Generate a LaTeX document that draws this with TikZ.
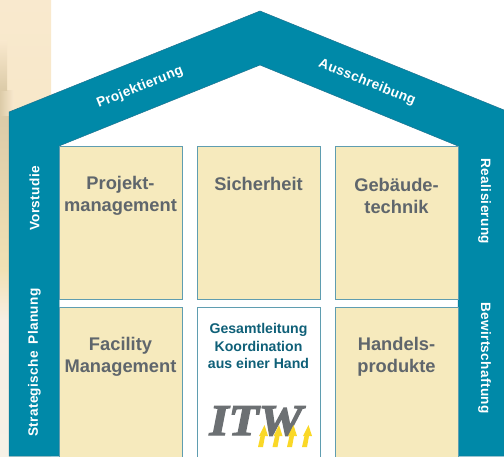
\documentclass[tikz,border=0pt]{standalone}
\usepackage{fontspec}
\setmainfont{Liberation Sans}
\newfontfamily\spacedbold[LetterSpace=2.5]{Liberation Sans Bold}
\newfontfamily\logofont[FakeBold=3,FakeStretch=1.12]{Liberation Serif Bold Italic}
\definecolor{teal}{HTML}{0089A8}
\definecolor{tealedge}{HTML}{1C7390}
\definecolor{cream}{HTML}{F6EABD}
\definecolor{boxedge}{HTML}{5F9DB0}
\definecolor{labelgrey}{HTML}{5F666C}
\definecolor{coordteal}{HTML}{0F6078}
\definecolor{logogrey}{HTML}{6C7073}
\definecolor{logoyellow}{HTML}{FAD827}
\definecolor{bgA}{HTML}{F9E9CE}
\definecolor{bgB}{HTML}{F5E6C2}
\definecolor{bgC}{HTML}{F8EEE4}
\definecolor{bgD}{HTML}{F6F1E6}
\definecolor{bgE}{HTML}{F1E1B4}
\definecolor{bgF}{HTML}{DCCBA8}
\tikzset{
  x=1pt,y=-1pt,
  pillar/.style={draw=boxedge,line width=1pt,fill=cream,minimum width=123pt,anchor=north west,inner sep=0pt,outer sep=0pt},
  whitepillar/.style={pillar,fill=white},
  head/.style={font=\fontsize{18.3}{22}\bfseries,text=labelgrey,align=center,inner sep=0pt},
  phase/.style={font=\spacedbold\fontsize{13.6}{15}\selectfont,text=white,inner sep=0pt},
  coord/.style={font=\fontsize{14.1}{17.5}\bfseries,text=coordteal,align=center,inner sep=0pt},
  logoarrow/.style={fill=logoyellow,draw=none},
}
\begin{document}
\begin{tikzpicture}
\useasboundingbox (0,0) rectangle (504,456);
\fill[white] (0,0) rectangle (504,456);
% blurred photo strip on the left
\fill[top color=bgA,bottom color=bgB] (0,0) rectangle (51,270);
\fill[top color=bgB,bottom color=bgC] (0,270) rectangle (51,320);
\fill[top color=bgC,bottom color=bgD] (0,320) rectangle (51,456);
\fill[left color=bgF,right color=bgA] (0,90) rectangle (14,116);
\fill[top color=bgA,bottom color=bgF] (0,40) rectangle (7,90);
\fill[top color=bgF,bottom color=bgE] (0,116) rectangle (9,270);
\fill[top color=bgE,bottom color=bgC] (0,270) rectangle (9,320);
\fill[top color=bgC,bottom color=bgD] (0,320) rectangle (9,456);
% house
\fill[teal,draw=tealedge,line width=.5pt] (9,456) -- (9,112) -- (260,11) -- (504,110) -- (504,456) -- (458,456) -- (458,146) -- (260,65) -- (59,146) -- (59,456) -- cycle;
% pillars
\node[pillar,minimum height=153pt] (pm) at (59.5,146.5) {};
\node[pillar,minimum height=153pt] (si) at (197.5,146.5) {};
\node[pillar,minimum height=153pt] (gt) at (335,146.5) {};
\node[pillar,minimum height=152pt] (fm) at (59.5,307) {};
\node[whitepillar,minimum height=152pt] (ko) at (197.5,307) {};
\node[pillar,minimum height=152pt] (hp) at (335,307) {};
% pillar labels
\node[head] at (120.5,195.5) {Projekt-\\management};
\node[head] at (258.5,183.5) {Sicherheit};
\node[head] at (396.5,195.5) {Gebäude-\\technik};
\node[head] at (120.5,356.5) {Facility\\Management};
\node[head] at (396.5,356.5) {Handels-\\produkte};
\node[coord] at (258.5,346) {Gesamtleitung\\Koordination\\aus einer Hand};
% phases
\node[phase,rotate=22] at (140,87.5) {Projektierung};
\node[phase,rotate=-22] at (367,82.5) {Ausschreibung};
\node[phase,rotate=90] at (34.5,198.5) {Vorstudie};
\node[phase,rotate=90] at (34.5,362.5) {Strategische\hspace{3pt} Planung};
\node[phase,rotate=-90] at (484.5,201.5) {Realisierung};
\node[phase,rotate=-90] at (484.5,358) {Bewirtschaftung};
% logo
\node[font=\logofont\fontsize{44}{44}\selectfont,text=logogrey,inner sep=0pt] (logo) at (256,421) {ITW};
\foreach \ax in {264,278.5,293,308}{
  \fill[logoarrow] (\ax-6,447) -- (\ax-1,447) -- (\ax+1,436) -- (\ax+4,436) -- (\ax+.5,425) -- (\ax-5,436) -- (\ax-3.5,436) -- cycle;
}
\end{tikzpicture}
\end{document}
